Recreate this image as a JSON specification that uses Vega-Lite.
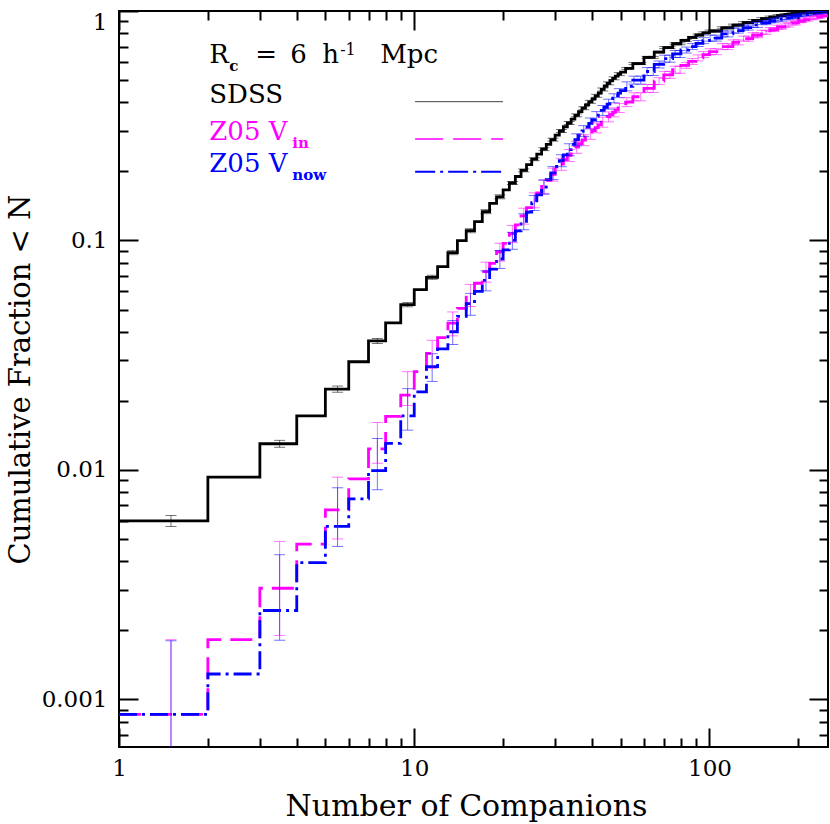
{
  "$schema": "https://vega.github.io/schema/vega-lite/v6.json",
  "width": 709,
  "height": 736,
  "autosize": {"type": "none"},
  "padding": {"left": 119, "top": 11, "right": 2, "bottom": 77},
  "background": "white",
  "config": {
    "view": {"stroke": "black", "strokeWidth": 2},
    "font": "DejaVu Serif",
    "axis": {"grid": false, "domain": false, "tickColor": "black", "tickWidth": 2, "labelColor": "black", "titleColor": "black", "labelFont": "DejaVu Serif", "titleFont": "DejaVu Serif", "titleFontWeight": "normal"}
  },
  "datasets": {
    "steps": [
      {"s":"SDSS","n":1,"v":0.006},{"s":"SDSS","n":2,"v":0.0093},{"s":"SDSS","n":3,"v":0.013},{"s":"SDSS","n":4,"v":0.0172},{"s":"SDSS","n":5,"v":0.0225},{"s":"SDSS","n":6,"v":0.0296},{"s":"SDSS","n":7,"v":0.0365},{"s":"SDSS","n":8,"v":0.0437},{"s":"SDSS","n":9,"v":0.0525},{"s":"SDSS","n":10,"v":0.061},
      {"s":"SDSS","n":11,"v":0.0691},{"s":"SDSS","n":12,"v":0.0769},{"s":"SDSS","n":13,"v":0.0885},{"s":"SDSS","n":14,"v":0.0998},{"s":"SDSS","n":15,"v":0.1103},{"s":"SDSS","n":16,"v":0.1208},{"s":"SDSS","n":17,"v":0.1335},{"s":"SDSS","n":18,"v":0.1452},{"s":"SDSS","n":19,"v":0.155},{"s":"SDSS","n":20,"v":0.166},
      {"s":"SDSS","n":21,"v":0.178},{"s":"SDSS","n":22,"v":0.19},{"s":"SDSS","n":23,"v":0.202},{"s":"SDSS","n":24,"v":0.214},{"s":"SDSS","n":25,"v":0.226},{"s":"SDSS","n":26,"v":0.238},{"s":"SDSS","n":27,"v":0.25},{"s":"SDSS","n":28,"v":0.262},{"s":"SDSS","n":29,"v":0.275},{"s":"SDSS","n":30,"v":0.288},
      {"s":"SDSS","n":31,"v":0.3},{"s":"SDSS","n":32,"v":0.313},{"s":"SDSS","n":33,"v":0.325},{"s":"SDSS","n":34,"v":0.338},{"s":"SDSS","n":35,"v":0.351},{"s":"SDSS","n":36,"v":0.364},{"s":"SDSS","n":37,"v":0.377},{"s":"SDSS","n":38,"v":0.39},{"s":"SDSS","n":39,"v":0.402},{"s":"SDSS","n":40,"v":0.414},
      {"s":"SDSS","n":41,"v":0.427},{"s":"SDSS","n":42,"v":0.44},{"s":"SDSS","n":43,"v":0.455},{"s":"SDSS","n":44,"v":0.47},{"s":"SDSS","n":45,"v":0.484},{"s":"SDSS","n":46,"v":0.497},{"s":"SDSS","n":47,"v":0.509},{"s":"SDSS","n":48,"v":0.52},{"s":"SDSS","n":49,"v":0.531},{"s":"SDSS","n":50,"v":0.542},
      {"s":"SDSS","n":52,"v":0.562},{"s":"SDSS","n":55,"v":0.59},{"s":"SDSS","n":60,"v":0.628},{"s":"SDSS","n":65,"v":0.662},{"s":"SDSS","n":70,"v":0.693},{"s":"SDSS","n":75,"v":0.72},{"s":"SDSS","n":80,"v":0.745},{"s":"SDSS","n":85,"v":0.767},{"s":"SDSS","n":90,"v":0.786},{"s":"SDSS","n":95,"v":0.803},
      {"s":"SDSS","n":100,"v":0.818},{"s":"SDSS","n":110,"v":0.845},{"s":"SDSS","n":120,"v":0.868},{"s":"SDSS","n":130,"v":0.89},{"s":"SDSS","n":140,"v":0.909},{"s":"SDSS","n":150,"v":0.926},{"s":"SDSS","n":160,"v":0.941},{"s":"SDSS","n":170,"v":0.954},{"s":"SDSS","n":180,"v":0.965},{"s":"SDSS","n":190,"v":0.974},
      {"s":"SDSS","n":200,"v":0.981},{"s":"SDSS","n":210,"v":0.987},{"s":"SDSS","n":220,"v":0.991},{"s":"SDSS","n":230,"v":0.994},{"s":"SDSS","n":240,"v":0.997},{"s":"SDSS","n":252,"v":0.999},

      {"s":"Z05 Vin","n":1,"v":0.00086},{"s":"Z05 Vin","n":2,"v":0.00182},{"s":"Z05 Vin","n":3,"v":0.00305},{"s":"Z05 Vin","n":4,"v":0.00475},{"s":"Z05 Vin","n":5,"v":0.0067},{"s":"Z05 Vin","n":6,"v":0.00914},{"s":"Z05 Vin","n":7,"v":0.01235},{"s":"Z05 Vin","n":8,"v":0.0171},{"s":"Z05 Vin","n":9,"v":0.0212},{"s":"Z05 Vin","n":10,"v":0.0268},
      {"s":"Z05 Vin","n":11,"v":0.0322},{"s":"Z05 Vin","n":12,"v":0.0377},{"s":"Z05 Vin","n":13,"v":0.0436},{"s":"Z05 Vin","n":14,"v":0.0506},{"s":"Z05 Vin","n":15,"v":0.0579},{"s":"Z05 Vin","n":16,"v":0.0651},{"s":"Z05 Vin","n":17,"v":0.0731},{"s":"Z05 Vin","n":18,"v":0.0795},{"s":"Z05 Vin","n":19,"v":0.0893},{"s":"Z05 Vin","n":20,"v":0.0972},
      {"s":"Z05 Vin","n":21,"v":0.107},{"s":"Z05 Vin","n":22,"v":0.117},{"s":"Z05 Vin","n":23,"v":0.128},{"s":"Z05 Vin","n":24,"v":0.139},{"s":"Z05 Vin","n":25,"v":0.15},{"s":"Z05 Vin","n":26,"v":0.161},{"s":"Z05 Vin","n":27,"v":0.172},{"s":"Z05 Vin","n":28,"v":0.183},{"s":"Z05 Vin","n":29,"v":0.194},{"s":"Z05 Vin","n":30,"v":0.205},
      {"s":"Z05 Vin","n":31,"v":0.215},{"s":"Z05 Vin","n":32,"v":0.225},{"s":"Z05 Vin","n":33,"v":0.235},{"s":"Z05 Vin","n":34,"v":0.245},{"s":"Z05 Vin","n":35,"v":0.255},{"s":"Z05 Vin","n":36,"v":0.264},{"s":"Z05 Vin","n":37,"v":0.274},{"s":"Z05 Vin","n":38,"v":0.283},{"s":"Z05 Vin","n":39,"v":0.292},{"s":"Z05 Vin","n":40,"v":0.301},
      {"s":"Z05 Vin","n":41,"v":0.31},{"s":"Z05 Vin","n":42,"v":0.319},{"s":"Z05 Vin","n":43,"v":0.328},{"s":"Z05 Vin","n":44,"v":0.337},{"s":"Z05 Vin","n":45,"v":0.346},{"s":"Z05 Vin","n":46,"v":0.354},{"s":"Z05 Vin","n":47,"v":0.362},{"s":"Z05 Vin","n":48,"v":0.37},{"s":"Z05 Vin","n":49,"v":0.378},{"s":"Z05 Vin","n":50,"v":0.386},
      {"s":"Z05 Vin","n":52,"v":0.401},{"s":"Z05 Vin","n":55,"v":0.423},{"s":"Z05 Vin","n":60,"v":0.46},{"s":"Z05 Vin","n":65,"v":0.495},{"s":"Z05 Vin","n":70,"v":0.527},{"s":"Z05 Vin","n":75,"v":0.555},{"s":"Z05 Vin","n":80,"v":0.58},{"s":"Z05 Vin","n":85,"v":0.603},{"s":"Z05 Vin","n":90,"v":0.625},{"s":"Z05 Vin","n":95,"v":0.646},
      {"s":"Z05 Vin","n":100,"v":0.665},{"s":"Z05 Vin","n":110,"v":0.7},{"s":"Z05 Vin","n":120,"v":0.73},{"s":"Z05 Vin","n":130,"v":0.758},{"s":"Z05 Vin","n":140,"v":0.784},{"s":"Z05 Vin","n":150,"v":0.808},{"s":"Z05 Vin","n":160,"v":0.83},{"s":"Z05 Vin","n":170,"v":0.85},{"s":"Z05 Vin","n":180,"v":0.869},{"s":"Z05 Vin","n":190,"v":0.887},
      {"s":"Z05 Vin","n":200,"v":0.903},{"s":"Z05 Vin","n":210,"v":0.918},{"s":"Z05 Vin","n":220,"v":0.931},{"s":"Z05 Vin","n":230,"v":0.943},{"s":"Z05 Vin","n":240,"v":0.953},{"s":"Z05 Vin","n":252,"v":0.962},

      {"s":"Z05 Vnow","n":1,"v":0.00086},{"s":"Z05 Vnow","n":2,"v":0.00129},{"s":"Z05 Vnow","n":3,"v":0.00244},{"s":"Z05 Vnow","n":4,"v":0.00394},{"s":"Z05 Vnow","n":5,"v":0.00568},{"s":"Z05 Vnow","n":6,"v":0.00748},{"s":"Z05 Vnow","n":7,"v":0.00993},{"s":"Z05 Vnow","n":8,"v":0.01306},{"s":"Z05 Vnow","n":9,"v":0.0172},{"s":"Z05 Vnow","n":10,"v":0.0219},
      {"s":"Z05 Vnow","n":11,"v":0.0282},{"s":"Z05 Vnow","n":12,"v":0.0337},{"s":"Z05 Vnow","n":13,"v":0.04},{"s":"Z05 Vnow","n":14,"v":0.0467},{"s":"Z05 Vnow","n":15,"v":0.053},{"s":"Z05 Vnow","n":16,"v":0.06},{"s":"Z05 Vnow","n":17,"v":0.067},{"s":"Z05 Vnow","n":18,"v":0.075},{"s":"Z05 Vnow","n":19,"v":0.083},{"s":"Z05 Vnow","n":20,"v":0.091},
      {"s":"Z05 Vnow","n":21,"v":0.1},{"s":"Z05 Vnow","n":22,"v":0.11},{"s":"Z05 Vnow","n":23,"v":0.121},{"s":"Z05 Vnow","n":24,"v":0.133},{"s":"Z05 Vnow","n":25,"v":0.146},{"s":"Z05 Vnow","n":26,"v":0.158},{"s":"Z05 Vnow","n":27,"v":0.171},{"s":"Z05 Vnow","n":28,"v":0.184},{"s":"Z05 Vnow","n":29,"v":0.197},{"s":"Z05 Vnow","n":30,"v":0.21},
      {"s":"Z05 Vnow","n":31,"v":0.223},{"s":"Z05 Vnow","n":32,"v":0.236},{"s":"Z05 Vnow","n":33,"v":0.249},{"s":"Z05 Vnow","n":34,"v":0.262},{"s":"Z05 Vnow","n":35,"v":0.275},{"s":"Z05 Vnow","n":36,"v":0.288},{"s":"Z05 Vnow","n":37,"v":0.3},{"s":"Z05 Vnow","n":38,"v":0.312},{"s":"Z05 Vnow","n":39,"v":0.324},{"s":"Z05 Vnow","n":40,"v":0.336},
      {"s":"Z05 Vnow","n":41,"v":0.347},{"s":"Z05 Vnow","n":42,"v":0.358},{"s":"Z05 Vnow","n":43,"v":0.369},{"s":"Z05 Vnow","n":44,"v":0.38},{"s":"Z05 Vnow","n":45,"v":0.393},{"s":"Z05 Vnow","n":46,"v":0.405},{"s":"Z05 Vnow","n":47,"v":0.417},{"s":"Z05 Vnow","n":48,"v":0.428},{"s":"Z05 Vnow","n":49,"v":0.439},{"s":"Z05 Vnow","n":50,"v":0.45},
      {"s":"Z05 Vnow","n":52,"v":0.47},{"s":"Z05 Vnow","n":55,"v":0.5},{"s":"Z05 Vnow","n":60,"v":0.545},{"s":"Z05 Vnow","n":65,"v":0.585},{"s":"Z05 Vnow","n":70,"v":0.62},{"s":"Z05 Vnow","n":75,"v":0.65},{"s":"Z05 Vnow","n":80,"v":0.676},{"s":"Z05 Vnow","n":85,"v":0.7},{"s":"Z05 Vnow","n":90,"v":0.722},{"s":"Z05 Vnow","n":95,"v":0.743},
      {"s":"Z05 Vnow","n":100,"v":0.762},{"s":"Z05 Vnow","n":110,"v":0.795},{"s":"Z05 Vnow","n":120,"v":0.822},{"s":"Z05 Vnow","n":130,"v":0.847},{"s":"Z05 Vnow","n":140,"v":0.87},{"s":"Z05 Vnow","n":150,"v":0.89},{"s":"Z05 Vnow","n":160,"v":0.907},{"s":"Z05 Vnow","n":170,"v":0.922},{"s":"Z05 Vnow","n":180,"v":0.936},{"s":"Z05 Vnow","n":190,"v":0.948},
      {"s":"Z05 Vnow","n":200,"v":0.958},{"s":"Z05 Vnow","n":210,"v":0.967},{"s":"Z05 Vnow","n":220,"v":0.975},{"s":"Z05 Vnow","n":230,"v":0.982},{"s":"Z05 Vnow","n":240,"v":0.988},{"s":"Z05 Vnow","n":252,"v":0.993}
    ],
    "err": [
      {"s":"SDSS","n":1.5,"lo":0.00567,"hi":0.00633},{"s":"SDSS","n":3.5,"lo":0.01255,"hi":0.01345},{"s":"SDSS","n":5.5,"lo":0.0218,"hi":0.0232},{"s":"SDSS","n":7.5,"lo":0.0356,"hi":0.0374},{"s":"SDSS","n":9.5,"lo":0.0514,"hi":0.0536},
      {"s":"SDSS","n":11.5,"lo":0.0677,"hi":0.0705},{"s":"SDSS","n":13.5,"lo":0.0867,"hi":0.0903},{"s":"SDSS","n":15.5,"lo":0.1081,"hi":0.1125},{"s":"SDSS","n":17.5,"lo":0.1308,"hi":0.1362},{"s":"SDSS","n":19.5,"lo":0.1519,"hi":0.1581},
      {"s":"SDSS","n":21.5,"lo":0.1753,"hi":0.1807},{"s":"SDSS","n":23.5,"lo":0.199,"hi":0.205},{"s":"SDSS","n":25.5,"lo":0.2226,"hi":0.2294},{"s":"SDSS","n":27.5,"lo":0.2463,"hi":0.2538},{"s":"SDSS","n":29.5,"lo":0.2709,"hi":0.2791},
      {"s":"SDSS","n":31.5,"lo":0.2955,"hi":0.3045},{"s":"SDSS","n":33.5,"lo":0.3201,"hi":0.3299},{"s":"SDSS","n":35.5,"lo":0.3457,"hi":0.3563},{"s":"SDSS","n":37.5,"lo":0.3713,"hi":0.3827},{"s":"SDSS","n":39.5,"lo":0.396,"hi":0.408},
      {"s":"SDSS","n":41.5,"lo":0.4206,"hi":0.4334},{"s":"SDSS","n":43.5,"lo":0.4482,"hi":0.4618},{"s":"SDSS","n":45.5,"lo":0.4767,"hi":0.4913},{"s":"SDSS","n":47.5,"lo":0.5014,"hi":0.5166},{"s":"SDSS","n":49.5,"lo":0.523,"hi":0.539},
      {"s":"SDSS","n":52.5,"lo":0.5564,"hi":0.5676},{"s":"SDSS","n":55.5,"lo":0.5841,"hi":0.5959},{"s":"SDSS","n":58.5,"lo":0.5841,"hi":0.5959},{"s":"SDSS","n":61.5,"lo":0.6217,"hi":0.6343},{"s":"SDSS","n":64.5,"lo":0.6217,"hi":0.6343},
      {"s":"SDSS","n":67.5,"lo":0.6554,"hi":0.6686},{"s":"SDSS","n":70.5,"lo":0.686,"hi":0.7},{"s":"SDSS","n":73.5,"lo":0.686,"hi":0.7},{"s":"SDSS","n":76.5,"lo":0.7128,"hi":0.7272},{"s":"SDSS","n":79.5,"lo":0.7128,"hi":0.7272},
      {"s":"SDSS","n":83.5,"lo":0.7376,"hi":0.7525},{"s":"SDSS","n":87.5,"lo":0.7593,"hi":0.7747},{"s":"SDSS","n":91.5,"lo":0.7781,"hi":0.7939},{"s":"SDSS","n":95.5,"lo":0.795,"hi":0.811},{"s":"SDSS","n":100.5,"lo":0.8098,"hi":0.8262},
      {"s":"SDSS","n":105.5,"lo":0.8098,"hi":0.8262},{"s":"SDSS","n":110.5,"lo":0.8366,"hi":0.8535},{"s":"SDSS","n":115.5,"lo":0.8366,"hi":0.8535},{"s":"SDSS","n":120.5,"lo":0.8593,"hi":0.8767},{"s":"SDSS","n":125.5,"lo":0.8593,"hi":0.8767},
      {"s":"SDSS","n":130.5,"lo":0.8811,"hi":0.8989},{"s":"SDSS","n":135.5,"lo":0.8811,"hi":0.8989},{"s":"SDSS","n":140.5,"lo":0.9,"hi":0.918},{"s":"SDSS","n":145.5,"lo":0.9,"hi":0.918},{"s":"SDSS","n":150.5,"lo":0.9167,"hi":0.9353},
      {"s":"SDSS","n":155.5,"lo":0.9167,"hi":0.9353},{"s":"SDSS","n":160.5,"lo":0.9316,"hi":0.9504},{"s":"SDSS","n":165.5,"lo":0.9316,"hi":0.9504},{"s":"SDSS","n":170.5,"lo":0.9445,"hi":0.9635},{"s":"SDSS","n":175.5,"lo":0.9445,"hi":0.9635},
      {"s":"SDSS","n":180.5,"lo":0.9554,"hi":0.9747},{"s":"SDSS","n":185.5,"lo":0.9554,"hi":0.9747},{"s":"SDSS","n":190.5,"lo":0.9643,"hi":0.9837},{"s":"SDSS","n":195.5,"lo":0.9643,"hi":0.9837},{"s":"SDSS","n":200.5,"lo":0.9712,"hi":0.9908},
      {"s":"SDSS","n":205.5,"lo":0.9712,"hi":0.9908},{"s":"SDSS","n":210.5,"lo":0.9771,"hi":0.9969},{"s":"SDSS","n":215.5,"lo":0.9771,"hi":0.9969},{"s":"SDSS","n":220.5,"lo":0.9811,"hi":1.0},{"s":"SDSS","n":225.5,"lo":0.9811,"hi":1.0},
      {"s":"SDSS","n":230.5,"lo":0.9841,"hi":1.0},{"s":"SDSS","n":235.5,"lo":0.9841,"hi":1.0},{"s":"SDSS","n":240.5,"lo":0.987,"hi":1.0},{"s":"SDSS","n":245.5,"lo":0.987,"hi":1.0},

      {"s":"Z05 Vin","n":1.5,"lo":0.0006,"hi":0.00182},{"s":"Z05 Vin","n":3.5,"lo":0.0019,"hi":0.00488},{"s":"Z05 Vin","n":5.5,"lo":0.005,"hi":0.0093},{"s":"Z05 Vin","n":7.5,"lo":0.0107,"hi":0.0161},{"s":"Z05 Vin","n":9.5,"lo":0.0191,"hi":0.0268},
      {"s":"Z05 Vin","n":11.5,"lo":0.0277,"hi":0.0367},{"s":"Z05 Vin","n":13.5,"lo":0.0384,"hi":0.0488},{"s":"Z05 Vin","n":15.5,"lo":0.0515,"hi":0.0643},{"s":"Z05 Vin","n":17.5,"lo":0.0658,"hi":0.0804},{"s":"Z05 Vin","n":19.5,"lo":0.0813,"hi":0.0973},
      {"s":"Z05 Vin","n":21.5,"lo":0.0979,"hi":0.1161},{"s":"Z05 Vin","n":23.5,"lo":0.1178,"hi":0.1382},{"s":"Z05 Vin","n":25.5,"lo":0.1388,"hi":0.1613},{"s":"Z05 Vin","n":27.5,"lo":0.16,"hi":0.184},{"s":"Z05 Vin","n":29.5,"lo":0.1814,"hi":0.2066},
      {"s":"Z05 Vin","n":31.5,"lo":0.2021,"hi":0.2279},{"s":"Z05 Vin","n":33.5,"lo":0.2209,"hi":0.2491},{"s":"Z05 Vin","n":35.5,"lo":0.2397,"hi":0.2703},{"s":"Z05 Vin","n":37.5,"lo":0.2589,"hi":0.2891},{"s":"Z05 Vin","n":39.5,"lo":0.2759,"hi":0.3081},
      {"s":"Z05 Vin","n":41.5,"lo":0.2945,"hi":0.3255},{"s":"Z05 Vin","n":43.5,"lo":0.3116,"hi":0.3444},{"s":"Z05 Vin","n":45.5,"lo":0.3287,"hi":0.3633},{"s":"Z05 Vin","n":47.5,"lo":0.3457,"hi":0.3783},{"s":"Z05 Vin","n":49.5,"lo":0.361,"hi":0.395},
      {"s":"Z05 Vin","n":52.5,"lo":0.383,"hi":0.419},{"s":"Z05 Vin","n":55.5,"lo":0.406,"hi":0.44},{"s":"Z05 Vin","n":58.5,"lo":0.406,"hi":0.44},{"s":"Z05 Vin","n":61.5,"lo":0.4416,"hi":0.4784},{"s":"Z05 Vin","n":64.5,"lo":0.4416,"hi":0.4784},
      {"s":"Z05 Vin","n":67.5,"lo":0.4777,"hi":0.5123},{"s":"Z05 Vin","n":70.5,"lo":0.5086,"hi":0.5455},{"s":"Z05 Vin","n":73.5,"lo":0.5086,"hi":0.5455},{"s":"Z05 Vin","n":76.5,"lo":0.5356,"hi":0.5744},{"s":"Z05 Vin","n":79.5,"lo":0.5356,"hi":0.5744},
      {"s":"Z05 Vin","n":83.5,"lo":0.5626,"hi":0.5974},{"s":"Z05 Vin","n":87.5,"lo":0.5849,"hi":0.6211},{"s":"Z05 Vin","n":91.5,"lo":0.6063,"hi":0.6438},{"s":"Z05 Vin","n":95.5,"lo":0.6266,"hi":0.6654},{"s":"Z05 Vin","n":100.5,"lo":0.645,"hi":0.685},
      {"s":"Z05 Vin","n":105.5,"lo":0.645,"hi":0.685},{"s":"Z05 Vin","n":110.5,"lo":0.679,"hi":0.721},{"s":"Z05 Vin","n":115.5,"lo":0.679,"hi":0.721},{"s":"Z05 Vin","n":120.5,"lo":0.7118,"hi":0.7483},{"s":"Z05 Vin","n":125.5,"lo":0.7118,"hi":0.7483},
      {"s":"Z05 Vin","n":130.5,"lo":0.739,"hi":0.777},{"s":"Z05 Vin","n":135.5,"lo":0.739,"hi":0.777},{"s":"Z05 Vin","n":140.5,"lo":0.7644,"hi":0.8036},{"s":"Z05 Vin","n":145.5,"lo":0.7644,"hi":0.8036},{"s":"Z05 Vin","n":150.5,"lo":0.7918,"hi":0.8242},
      {"s":"Z05 Vin","n":155.5,"lo":0.7918,"hi":0.8242},{"s":"Z05 Vin","n":160.5,"lo":0.8134,"hi":0.8466},{"s":"Z05 Vin","n":165.5,"lo":0.8134,"hi":0.8466},{"s":"Z05 Vin","n":170.5,"lo":0.833,"hi":0.867},{"s":"Z05 Vin","n":175.5,"lo":0.833,"hi":0.867},
      {"s":"Z05 Vin","n":180.5,"lo":0.8516,"hi":0.8864},{"s":"Z05 Vin","n":185.5,"lo":0.8516,"hi":0.8864},{"s":"Z05 Vin","n":190.5,"lo":0.8693,"hi":0.9047},{"s":"Z05 Vin","n":195.5,"lo":0.8693,"hi":0.9047},{"s":"Z05 Vin","n":200.5,"lo":0.8895,"hi":0.9165},
      {"s":"Z05 Vin","n":205.5,"lo":0.8895,"hi":0.9165},{"s":"Z05 Vin","n":210.5,"lo":0.9042,"hi":0.9318},{"s":"Z05 Vin","n":215.5,"lo":0.9042,"hi":0.9318},{"s":"Z05 Vin","n":220.5,"lo":0.917,"hi":0.945},{"s":"Z05 Vin","n":225.5,"lo":0.917,"hi":0.945},
      {"s":"Z05 Vin","n":230.5,"lo":0.9289,"hi":0.9571},{"s":"Z05 Vin","n":235.5,"lo":0.9289,"hi":0.9571},{"s":"Z05 Vin","n":240.5,"lo":0.9435,"hi":0.9625},{"s":"Z05 Vin","n":245.5,"lo":0.9435,"hi":0.9625},

      {"s":"Z05 Vnow","n":1.5,"lo":0.0006,"hi":0.0018},{"s":"Z05 Vnow","n":3.5,"lo":0.00181,"hi":0.00427},{"s":"Z05 Vnow","n":5.5,"lo":0.00464,"hi":0.00836},{"s":"Z05 Vnow","n":7.5,"lo":0.0082,"hi":0.0137},{"s":"Z05 Vnow","n":9.5,"lo":0.0149,"hi":0.0226},
      {"s":"Z05 Vnow","n":11.5,"lo":0.0243,"hi":0.0321},{"s":"Z05 Vnow","n":13.5,"lo":0.0352,"hi":0.0448},{"s":"Z05 Vnow","n":15.5,"lo":0.0472,"hi":0.0588},{"s":"Z05 Vnow","n":17.5,"lo":0.0603,"hi":0.0737},{"s":"Z05 Vnow","n":19.5,"lo":0.0755,"hi":0.0905},
      {"s":"Z05 Vnow","n":21.5,"lo":0.0915,"hi":0.1085},{"s":"Z05 Vnow","n":23.5,"lo":0.1113,"hi":0.1307},{"s":"Z05 Vnow","n":25.5,"lo":0.135,"hi":0.157},{"s":"Z05 Vnow","n":27.5,"lo":0.159,"hi":0.183},{"s":"Z05 Vnow","n":29.5,"lo":0.1842,"hi":0.2098},
      {"s":"Z05 Vnow","n":31.5,"lo":0.2096,"hi":0.2364},{"s":"Z05 Vnow","n":33.5,"lo":0.2341,"hi":0.2639},{"s":"Z05 Vnow","n":35.5,"lo":0.2585,"hi":0.2915},{"s":"Z05 Vnow","n":37.5,"lo":0.2835,"hi":0.3165},{"s":"Z05 Vnow","n":39.5,"lo":0.3062,"hi":0.3418},
      {"s":"Z05 Vnow","n":41.5,"lo":0.3297,"hi":0.3644},{"s":"Z05 Vnow","n":43.5,"lo":0.3506,"hi":0.3875},{"s":"Z05 Vnow","n":45.5,"lo":0.3734,"hi":0.4127},{"s":"Z05 Vnow","n":47.5,"lo":0.3982,"hi":0.4358},{"s":"Z05 Vnow","n":49.5,"lo":0.4192,"hi":0.4588},
      {"s":"Z05 Vnow","n":52.5,"lo":0.4489,"hi":0.4912},{"s":"Z05 Vnow","n":55.5,"lo":0.48,"hi":0.52},{"s":"Z05 Vnow","n":58.5,"lo":0.48,"hi":0.52},{"s":"Z05 Vnow","n":61.5,"lo":0.5232,"hi":0.5668},{"s":"Z05 Vnow","n":64.5,"lo":0.5232,"hi":0.5668},
      {"s":"Z05 Vnow","n":67.5,"lo":0.5645,"hi":0.6055},{"s":"Z05 Vnow","n":70.5,"lo":0.5983,"hi":0.6417},{"s":"Z05 Vnow","n":73.5,"lo":0.5983,"hi":0.6417},{"s":"Z05 Vnow","n":76.5,"lo":0.6273,"hi":0.6728},{"s":"Z05 Vnow","n":79.5,"lo":0.6273,"hi":0.6728},
      {"s":"Z05 Vnow","n":83.5,"lo":0.6557,"hi":0.6963},{"s":"Z05 Vnow","n":87.5,"lo":0.679,"hi":0.721},{"s":"Z05 Vnow","n":91.5,"lo":0.7003,"hi":0.7437},{"s":"Z05 Vnow","n":95.5,"lo":0.7207,"hi":0.7653},{"s":"Z05 Vnow","n":100.5,"lo":0.7391,"hi":0.7849},
      {"s":"Z05 Vnow","n":105.5,"lo":0.7391,"hi":0.7849},{"s":"Z05 Vnow","n":110.5,"lo":0.7712,"hi":0.8189},{"s":"Z05 Vnow","n":115.5,"lo":0.7712,"hi":0.8189},{"s":"Z05 Vnow","n":120.5,"lo":0.8015,"hi":0.8426},{"s":"Z05 Vnow","n":125.5,"lo":0.8015,"hi":0.8426},
      {"s":"Z05 Vnow","n":130.5,"lo":0.8258,"hi":0.8682},{"s":"Z05 Vnow","n":135.5,"lo":0.8258,"hi":0.8682},{"s":"Z05 Vnow","n":140.5,"lo":0.8483,"hi":0.8918},{"s":"Z05 Vnow","n":145.5,"lo":0.8483,"hi":0.8918},{"s":"Z05 Vnow","n":150.5,"lo":0.8722,"hi":0.9078},
      {"s":"Z05 Vnow","n":155.5,"lo":0.8722,"hi":0.9078},{"s":"Z05 Vnow","n":160.5,"lo":0.8889,"hi":0.9251},{"s":"Z05 Vnow","n":165.5,"lo":0.8889,"hi":0.9251},{"s":"Z05 Vnow","n":170.5,"lo":0.9036,"hi":0.9404},{"s":"Z05 Vnow","n":175.5,"lo":0.9036,"hi":0.9404},
      {"s":"Z05 Vnow","n":180.5,"lo":0.9173,"hi":0.9547},{"s":"Z05 Vnow","n":185.5,"lo":0.9173,"hi":0.9547},{"s":"Z05 Vnow","n":190.5,"lo":0.929,"hi":0.967},{"s":"Z05 Vnow","n":195.5,"lo":0.929,"hi":0.967},{"s":"Z05 Vnow","n":200.5,"lo":0.9436,"hi":0.9724},
      {"s":"Z05 Vnow","n":205.5,"lo":0.9436,"hi":0.9724},{"s":"Z05 Vnow","n":210.5,"lo":0.9525,"hi":0.9815},{"s":"Z05 Vnow","n":215.5,"lo":0.9525,"hi":0.9815},{"s":"Z05 Vnow","n":220.5,"lo":0.9604,"hi":0.9896},{"s":"Z05 Vnow","n":225.5,"lo":0.9604,"hi":0.9896},
      {"s":"Z05 Vnow","n":230.5,"lo":0.9673,"hi":0.9967},{"s":"Z05 Vnow","n":235.5,"lo":0.9673,"hi":0.9967},{"s":"Z05 Vnow","n":240.5,"lo":0.9781,"hi":0.9979},{"s":"Z05 Vnow","n":245.5,"lo":0.9781,"hi":0.9979}
    ],
    "leg": [
      {"s":"SDSS","n":10.07,"v":0.4026},{"s":"SDSS","n":19.99,"v":0.4026},
      {"s":"Z05 Vin","n":10.07,"v":0.2768},{"s":"Z05 Vin","n":19.99,"v":0.2768},
      {"s":"Z05 Vnow","n":10.07,"v":0.1994},{"s":"Z05 Vnow","n":19.99,"v":0.1994}
    ],
    "txt": [
      {"s":"SDSS","k":"main","t":"R","n":2.022,"v":0.5934},
      {"s":"SDSS","k":"sub","t":"c","n":2.364,"v":0.5478},
      {"s":"SDSS","k":"main","t":"=","n":2.894,"v":0.5934},
      {"s":"SDSS","k":"main","t":"6","n":3.802,"v":0.5934},
      {"s":"SDSS","k":"main","t":"h","n":4.879,"v":0.5934},
      {"s":"SDSS","k":"sup","t":"-1","n":5.614,"v":0.6428},
      {"s":"SDSS","k":"main","t":"Mpc","n":7.665,"v":0.5934},
      {"s":"SDSS","k":"main","t":"SDSS","n":2.022,"v":0.3973},
      {"s":"Z05 Vin","k":"main","t":"Z05 V","n":2.022,"v":0.2741},
      {"s":"Z05 Vin","k":"sub","t":"in","n":3.861,"v":0.253},
      {"s":"Z05 Vnow","k":"main","t":"Z05 V","n":2.022,"v":0.1988},
      {"s":"Z05 Vnow","k":"sub","t":"now","n":3.861,"v":0.1835}
    ]
  },
  "layer": [
    {
      "data": {"name": "steps"},
      "mark": {"type": "line", "interpolate": "step-after", "strokeWidth": 2.8, "clip": true},
      "encoding": {
        "x": {"field": "n", "type": "quantitative", "scale": {"type": "log", "domain": [1, 252], "nice": false},
              "axis": {"orient": "bottom", "values": [1, 10, 100], "format": "~g", "ticks": false, "labelFontSize": 23, "labelPadding": 10, "labelFlush": false, "title": "Number of Companions", "titleFontSize": 30, "titleX": 347, "titleY": 68, "titleBaseline": "alphabetic", "titleAlign": "center"}},
        "y": {"field": "v", "type": "quantitative", "scale": {"type": "log", "domain": [0.00062, 1], "nice": false},
              "axis": {"orient": "left", "values": [0.001, 0.01, 0.1, 1], "format": "~g", "ticks": false, "labelFontSize": 23, "labelPadding": 12, "labelFlush": false, "labelBaseline": {"condition": {"test": "datum.value >= 0.99", "value": "top"}, "value": "middle"}, "title": "Cumulative Fraction < N", "titleFontSize": 29, "titleAngle": 270, "titleX": -99, "titleY": 368, "titleAlign": "center", "titleBaseline": "middle"}},
        "color": {"field": "s", "type": "nominal", "scale": {"domain": ["SDSS", "Z05 Vin", "Z05 Vnow"], "range": ["#000000", "#ff00ff", "#0000ff"]}, "legend": null},
        "strokeDash": {"field": "s", "type": "nominal", "scale": {"domain": ["SDSS", "Z05 Vin", "Z05 Vnow"], "range": [[1, 0], [22, 9], [18, 5, 3, 5]]}, "legend": null}
      }
    },
    {
      "data": {"name": "err"},
      "mark": {"type": "rule", "strokeWidth": 1, "opacity": 0.55, "clip": true},
      "encoding": {
        "x": {"field": "n", "type": "quantitative", "scale": {"type": "log", "domain": [1, 252], "nice": false},
              "axis": {"orient": "bottom", "values": [1, 10, 100], "tickSize": -19, "labels": false, "title": null}},
        "y": {"field": "lo", "type": "quantitative", "scale": {"type": "log", "domain": [0.00062, 1], "nice": false},
              "axis": {"orient": "left", "values": [0.001, 0.01, 0.1, 1], "tickSize": -19, "labels": false, "title": null}},
        "y2": {"field": "hi"},
        "color": {"field": "s", "type": "nominal", "scale": {"domain": ["SDSS", "Z05 Vin", "Z05 Vnow"], "range": ["#000000", "#ff00ff", "#0000ff"]}, "legend": null}
      }
    },
    {
      "data": {"name": "err"},
      "mark": {"type": "tick", "orient": "horizontal", "size": 11, "thickness": 1, "opacity": 0.55, "clip": true},
      "encoding": {
        "x": {"field": "n", "type": "quantitative", "scale": {"type": "log", "domain": [1, 252], "nice": false},
              "axis": {"orient": "bottom", "values": [2, 3, 4, 5, 6, 7, 8, 9, 20, 30, 40, 50, 60, 70, 80, 90, 200], "tickSize": -9, "labels": false, "title": null}},
        "y": {"field": "lo", "type": "quantitative", "scale": {"type": "log", "domain": [0.00062, 1], "nice": false},
              "axis": {"orient": "left", "values": [0.0007, 0.0008, 0.0009, 0.002, 0.003, 0.004, 0.005, 0.006, 0.007, 0.008, 0.009, 0.02, 0.03, 0.04, 0.05, 0.06, 0.07, 0.08, 0.09, 0.2, 0.3, 0.4, 0.5, 0.6, 0.7, 0.8, 0.9], "tickSize": -9, "labels": false, "title": null}},
        "color": {"field": "s", "type": "nominal", "scale": {"domain": ["SDSS", "Z05 Vin", "Z05 Vnow"], "range": ["#000000", "#ff00ff", "#0000ff"]}, "legend": null}
      }
    },
    {
      "data": {"name": "err"},
      "mark": {"type": "tick", "orient": "horizontal", "size": 11, "thickness": 1, "opacity": 0.55, "clip": true},
      "encoding": {
        "x": {"field": "n", "type": "quantitative", "scale": {"type": "log", "domain": [1, 252], "nice": false},
              "axis": {"orient": "top", "values": [1, 10, 100], "tickSize": -19, "labels": false, "title": null}},
        "y": {"field": "hi", "type": "quantitative", "scale": {"type": "log", "domain": [0.00062, 1], "nice": false},
              "axis": {"orient": "right", "values": [0.001, 0.01, 0.1, 1], "tickSize": -19, "labels": false, "title": null}},
        "color": {"field": "s", "type": "nominal", "scale": {"domain": ["SDSS", "Z05 Vin", "Z05 Vnow"], "range": ["#000000", "#ff00ff", "#0000ff"]}, "legend": null}
      }
    },
    {
      "data": {"name": "leg"},
      "mark": {"type": "line"},
      "encoding": {
        "x": {"field": "n", "type": "quantitative", "scale": {"type": "log", "domain": [1, 252], "nice": false},
              "axis": {"orient": "top", "values": [2, 3, 4, 5, 6, 7, 8, 9, 20, 30, 40, 50, 60, 70, 80, 90, 200], "tickSize": -9, "labels": false, "title": null}},
        "y": {"field": "v", "type": "quantitative", "scale": {"type": "log", "domain": [0.00062, 1], "nice": false},
              "axis": {"orient": "right", "values": [0.0007, 0.0008, 0.0009, 0.002, 0.003, 0.004, 0.005, 0.006, 0.007, 0.008, 0.009, 0.02, 0.03, 0.04, 0.05, 0.06, 0.07, 0.08, 0.09, 0.2, 0.3, 0.4, 0.5, 0.6, 0.7, 0.8, 0.9], "tickSize": -9, "labels": false, "title": null}},
        "color": {"field": "s", "type": "nominal", "scale": {"domain": ["SDSS", "Z05 Vin", "Z05 Vnow"], "range": ["#333333", "#ff00ff", "#0000ff"]}, "legend": null},
        "strokeWidth": {"field": "s", "type": "nominal", "scale": {"domain": ["SDSS", "Z05 Vin", "Z05 Vnow"], "range": [1, 2, 2]}, "legend": null},
        "strokeDash": {"field": "s", "type": "nominal", "scale": {"domain": ["SDSS", "Z05 Vin", "Z05 Vnow"], "range": [[1, 0], [28, 10], [20, 5, 3, 5]]}, "legend": null}
      }
    },
    {
      "data": {"name": "txt"},
      "transform": [{"filter": "datum.k == 'main'"}],
      "mark": {"type": "text", "align": "left", "baseline": "alphabetic", "fontSize": 26, "font": "DejaVu Serif"},
      "encoding": {
        "x": {"field": "n", "type": "quantitative", "scale": {"type": "log", "domain": [1, 252], "nice": false}, "axis": null},
        "y": {"field": "v", "type": "quantitative", "scale": {"type": "log", "domain": [0.00062, 1], "nice": false}, "axis": null},
        "text": {"field": "t"},
        "color": {"field": "s", "type": "nominal", "scale": {"domain": ["SDSS", "Z05 Vin", "Z05 Vnow"], "range": ["#000000", "#ff00ff", "#0000ff"]}, "legend": null}
      }
    },
    {
      "data": {"name": "txt"},
      "transform": [{"filter": "datum.k == 'sub'"}],
      "mark": {"type": "text", "align": "left", "baseline": "alphabetic", "fontSize": 15, "fontWeight": "bold", "font": "DejaVu Serif"},
      "encoding": {
        "x": {"field": "n", "type": "quantitative", "scale": {"type": "log", "domain": [1, 252], "nice": false}, "axis": null},
        "y": {"field": "v", "type": "quantitative", "scale": {"type": "log", "domain": [0.00062, 1], "nice": false}, "axis": null},
        "text": {"field": "t"},
        "color": {"field": "s", "type": "nominal", "scale": {"domain": ["SDSS", "Z05 Vin", "Z05 Vnow"], "range": ["#000000", "#ff00ff", "#0000ff"]}, "legend": null}
      }
    },
    {
      "data": {"name": "txt"},
      "transform": [{"filter": "datum.k == 'sup'"}],
      "mark": {"type": "text", "align": "left", "baseline": "alphabetic", "fontSize": 16, "font": "DejaVu Serif"},
      "encoding": {
        "x": {"field": "n", "type": "quantitative", "scale": {"type": "log", "domain": [1, 252], "nice": false}, "axis": null},
        "y": {"field": "v", "type": "quantitative", "scale": {"type": "log", "domain": [0.00062, 1], "nice": false}, "axis": null},
        "text": {"field": "t"},
        "color": {"field": "s", "type": "nominal", "scale": {"domain": ["SDSS", "Z05 Vin", "Z05 Vnow"], "range": ["#000000", "#ff00ff", "#0000ff"]}, "legend": null}
      }
    }
  ],
  "resolve": {
    "scale": {"color": "independent", "strokeDash": "independent", "strokeWidth": "independent"},
    "axis": {"x": "independent", "y": "independent"}
  }
}
